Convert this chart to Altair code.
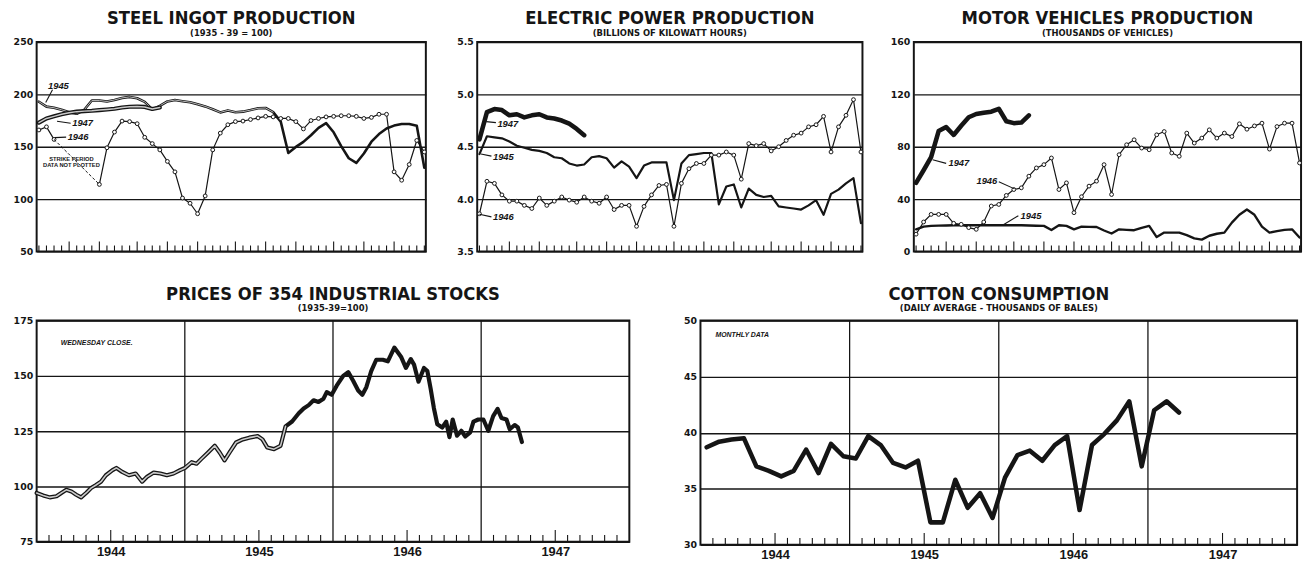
import altair as alt
import pandas as pd

# ---------------------------------------------------------------- data
# weekly series (week index 0..51 within the year)
steel_1945 = [193, 188.3, 187.2, 185.3, 183, 181.5, 185.3, 194.1, 194.1, 193.2,
              194.7, 196.6, 197.6, 196.3, 192.8, 185.7, 189.1, 193.3, 194.6, 193.5,
              192.5, 190.6, 188.5, 185.8, 182.8, 184.7, 183, 183.5, 185, 186.7,
              187, 183, 174, 144, 149.8, 154.6, 161, 168, 172.5, 163.8,
              150.6, 139, 134.5, 143.6, 154.8, 162.1, 167.4, 170.2, 171.7, 171.7,
              170, 130]
steel_1946 = [166, 169, 157, None, None, None, None, None, 114, 149,
              164, 174.5, 174, 172, 159, 153, 147, 136, 126, 101,
              96, 86, 103, 147, 163, 171, 174, 174.5, 176, 177.5,
              179, 178.5, 177, 177, 174, 167, 175, 177, 178.5, 179,
              179.6, 179.6, 179, 177, 178, 181, 181, 126, 118, 133,
              156, 145]
steel_1947 = [173, 177, 179, 181, 182.5, 183.5, 184, 184.4, 185, 185.6,
              186.3, 187.5, 188.2, 188.4, 188, 186, 187.5]

elec_1945 = [4.43, 4.60, 4.59, 4.58, 4.55, 4.51, 4.49, 4.47, 4.46, 4.44,
             4.40, 4.39, 4.34, 4.32, 4.33, 4.40, 4.41, 4.39, 4.30, 4.36,
             4.31, 4.20, 4.32, 4.35, 4.35, 4.35, 3.99, 4.34, 4.42, 4.43,
             4.44, 4.44, 3.95, 4.12, 4.14, 3.92, 4.10, 4.04, 4.02, 4.03,
             3.93, 3.92, 3.91, 3.90, 3.94, 3.99, 3.85, 4.05, 4.09, 4.15,
             4.20, 3.77]
elec_1946 = [3.86, 4.17, 4.15, 4.04, 3.98, 3.98, 3.94, 3.91, 4.01, 3.94,
             3.98, 4.02, 3.99, 3.97, 4.02, 3.98, 3.96, 4.02, 3.90, 3.94,
             3.94, 3.74, 3.93, 4.04, 4.13, 4.14, 3.74, 4.15, 4.29, 4.34,
             4.34, 4.42, 4.42, 4.45, 4.42, 4.19, 4.53, 4.51, 4.53, 4.46,
             4.50, 4.56, 4.61, 4.63, 4.69, 4.71, 4.79, 4.45, 4.69, 4.80,
             4.95, 4.45]
elec_1947 = [4.57, 4.83, 4.86, 4.85, 4.80, 4.81, 4.78, 4.80, 4.81, 4.78,
             4.77, 4.75, 4.72, 4.67, 4.61]

motor_1945 = [16.9, 19, 19.5, 19.7, 19.8, 20, 20, 20, 20, 20,
              20, 20, 20, 20, 20, 19.8, 19.6, 19.5, 16.4, 20,
              19.5, 16.9, 18.9, 18.8, 18.7, 16, 13.7, 16.9, 16.5, 16.2,
              18, 19.5, 11, 14.4, 14.4, 14.4, 12.4, 10, 9, 12,
              13.5, 14.4, 22, 28, 32, 28, 19, 14.4, 15.5, 16.5,
              16.9, 10.6]
motor_1946 = [13.2, 22.5, 28.3, 28.3, 28.3, 21.5, 20.7, 18.2, 16.9, 22.5,
              34.7, 35.9, 42.8, 47.3, 48.6, 57.5, 63.8, 66.3, 71.4, 47.3,
              52.4, 29.6, 41.8, 49.9, 53.7, 66.3, 43.5, 73.9, 81.5, 85.3,
              79.0, 77.7, 89.1, 91.6, 75.2, 72.7, 90.4, 82.8, 86.6, 92.9,
              86.6, 90.4, 87.8, 97.5, 93.4, 95.9, 98.0, 78.2, 95.4, 98.0,
              98.0, 67.6]
motor_1947 = [52.4, 62, 72, 92, 95, 89, 96, 102.5, 105, 106,
              106.8, 109, 99.5, 98, 98.5, 104]

# weekly stock prices, time in decimal years
stock_time = [1944.000, 1944.044, 1944.089, 1944.134, 1944.167, 1944.200, 1944.234, 1944.267, 1944.300, 1944.334,
              1944.367, 1944.401, 1944.434, 1944.467, 1944.512, 1944.538, 1944.578, 1944.623, 1944.668, 1944.712,
              1944.745, 1944.790, 1944.835, 1944.879, 1944.924, 1944.968, 1945.001, 1945.046, 1945.079, 1945.112,
              1945.157, 1945.202, 1945.235, 1945.268, 1945.302, 1945.346, 1945.391, 1945.435, 1945.491, 1945.524,
              1945.557, 1945.602, 1945.646, 1945.680, 1945.724, 1945.769, 1945.802, 1945.836, 1945.869, 1945.902,
              1945.936, 1945.958, 1945.991, 1946.025, 1946.069, 1946.103, 1946.136, 1946.170, 1946.198, 1946.225,
              1946.258, 1946.292, 1946.336, 1946.370, 1946.414, 1946.459, 1946.492, 1946.525, 1946.547, 1946.577,
              1946.614, 1946.637, 1946.659, 1946.681, 1946.704, 1946.737, 1946.764, 1946.786, 1946.808, 1946.837,
              1946.866, 1946.893, 1946.926, 1946.948, 1946.981, 1947.015, 1947.048, 1947.081, 1947.111, 1947.137,
              1947.171, 1947.193, 1947.226, 1947.248, 1947.275]
stock_value = [97.1, 96.0, 95.1, 95.6, 97.1, 98.5, 97.8, 96.3, 95.1, 97.1,
               99.3, 100.7, 102.2, 105.1, 107.4, 108.4, 106.6, 105.1, 105.9, 102.2,
               104.4, 106.3, 105.9, 105.1, 105.9, 107.4, 108.4, 111.0, 110.3, 112.5,
               115.4, 118.4, 115.4, 111.8, 115.4, 119.9, 121.3, 122.1, 122.8, 121.3,
               117.6, 116.9, 118.4, 127.2, 129.4, 133.1, 135.3, 136.8, 139.0, 138.2,
               139.7, 142.7, 141.5, 145.6, 150.0, 151.7, 147.8, 143.4, 141.5, 144.9,
               152.2, 157.3, 157.3, 156.6, 162.8, 158.7, 153.6, 157.6, 155.1, 147.4,
               153.6, 152.2, 144.2, 135.4, 128.1, 126.7, 129.3, 122.3, 130.3, 123.0,
               125.2, 122.6, 124.5, 129.3, 130.3, 130.3, 125.2, 131.8, 135.1, 131.0,
               130.3, 125.9, 127.8, 126.7, 120.1]

# monthly cotton consumption, Jan 1944 onwards
cotton_value = [38.7, 39.2, 39.4, 39.5, 37.0, 36.6, 36.1, 36.6, 38.5, 36.4, 39.0, 37.9,
                37.7, 39.7, 38.9, 37.3, 36.9, 37.5, 32.0, 32.0, 35.8, 33.3, 34.6, 32.4,
                36.0, 38.0, 38.4, 37.5, 38.9, 39.7, 33.1, 38.9, 39.9, 41.1, 42.8, 37.0,
                42.0, 42.8, 41.8]

steel_ticks = [50, 100, 150, 200, 250]
elec_ticks = [3.5, 4.0, 4.5, 5.0, 5.5]
motor_ticks = [0, 40, 80, 120, 160]
stock_ticks = [75, 100, 125, 150, 175]
cotton_ticks = [30, 35, 40, 45, 50]
year_labels = [1944, 1945, 1946, 1947]
month_start_weeks = [4, 8, 13, 17, 21, 26, 30, 34, 39, 43, 47]

# ---------------------------------------------------------------- style
INK = "#151515"
TITLE_FONT = "DejaVu Sans Condensed, Liberation Sans Narrow, DejaVu Sans, sans-serif"
SUB_FONT = "DejaVu Sans, sans-serif"
YEAR_FONT = "Liberation Sans, DejaVu Sans, sans-serif"
LABEL_FONT = "DejaVu Sans, sans-serif"
NOTE_FONT = "Liberation Sans, DejaVu Sans, sans-serif"
CORE = "#c9c9c9"


def ttl(text, sub, offset):
    return alt.TitleParams(text=text, subtitle=sub, font=TITLE_FONT, fontSize=18.5,
                           fontWeight="bold", color=INK, subtitleFont=SUB_FONT,
                           subtitleFontSize=8.5, subtitleFontWeight="bold",
                           subtitleColor=INK, subtitlePadding=1, anchor="middle",
                           lineHeight=18, subtitleLineHeight=9,
                           frame="group", offset=offset)


def y_axis(vals, fmt):
    return alt.Axis(values=vals, format=fmt, grid=True, gridColor=INK, gridWidth=1.4,
                    ticks=False, domain=False, labelFont=LABEL_FONT, labelFontSize=9.5,
                    labelFontWeight="bold", labelColor=INK, labelPadding=4,
                    minExtent=28, maxExtent=28, title=None)


def runs(vals):
    segs, cur = [], []
    for i, v in enumerate(vals):
        if v is None:
            if cur:
                segs.append(cur)
            cur = []
        else:
            cur.append((i, v))
    if cur:
        segs.append(cur)
    return [pd.DataFrame(s, columns=["x", "v"]) for s in segs]


def weekly_panel(title, sub, series, ydom, yvals, yfmt, width, height, notes, leaders,
                 small_notes=()):
    xs = alt.Scale(domain=[-0.3, 51.2], nice=False, zero=False)
    ys = alt.Scale(domain=ydom, nice=False, zero=False)
    ya = y_axis(yvals, yfmt)
    X = lambda f="x": alt.X(f"{f}:Q", scale=xs, axis=None)
    Y = lambda f="v": alt.Y(f"{f}:Q", scale=ys, axis=ya)
    unit = (ydom[1] - ydom[0]) / height
    tk = pd.DataFrame({"x": list(range(52))})
    tk["v"] = ydom[0]
    tk["v2"] = [ydom[0] + unit * (10 if i in month_start_weeks else 6) for i in range(52)]
    layers = [alt.Chart(tk).mark_rule(color=INK, strokeWidth=1.1)
              .encode(x=X(), y=Y(), y2="v2:Q")]
    for s in series:
        segs = runs(s["vals"])
        for df in segs:
            layers.append(alt.Chart(df).mark_line(color=INK, strokeWidth=s["w"],
                                                  strokeJoin="round", strokeCap="round")
                          .encode(x=X(), y=Y()))
            if s.get("hollow") is not None:
                core = df[df["x"] <= s["hollow"]]
                layers.append(alt.Chart(core).mark_line(color=CORE, strokeWidth=s["w"] * 0.35,
                                                        strokeJoin="round", strokeCap="round")
                              .encode(x=X(), y=Y()))
            if s.get("dots"):
                layers.append(alt.Chart(df).mark_point(shape="circle", filled=True, fill="white",
                                                       stroke=INK, strokeWidth=1, size=15, opacity=1)
                              .encode(x=X(), y=Y()))
        if len(segs) > 1:
            a, b = segs[0].iloc[-1], segs[1].iloc[0]
            gap = pd.DataFrame({"x": [a["x"], b["x"]], "v": [a["v"], b["v"]]})
            layers.append(alt.Chart(gap).mark_line(color=INK, strokeWidth=1, strokeDash=[3, 2])
                          .encode(x=X(), y=Y()))
    ld = pd.DataFrame(leaders, columns=["x", "v", "x2", "v2"])
    layers.append(alt.Chart(ld).mark_rule(color=INK, strokeWidth=1.1)
                  .encode(x=X(), y=Y(), x2="x2:Q", y2="v2:Q"))
    nd = pd.DataFrame(notes, columns=["label", "x", "v", "align"])
    for al in ["left", "right"]:
        sub_nd = nd[nd["align"] == al]
        if len(sub_nd):
            layers.append(alt.Chart(sub_nd).mark_text(font=NOTE_FONT, fontSize=9.5, fontStyle="italic",
                                                      fontWeight="bold", color=INK, align=al,
                                                      baseline="middle")
                          .encode(x=X(), y=Y(), text="label:N"))
    if small_notes:
        sn = pd.DataFrame(list(small_notes), columns=["label", "x", "v"])
        layers.append(alt.Chart(sn).mark_text(font=NOTE_FONT, fontSize=5.8, fontWeight="bold",
                                              color=INK, align="center", baseline="middle")
                      .encode(x=X(), y=Y(), text="label:N"))
    return alt.layer(*layers).properties(width=width, height=height, title=ttl(title, sub, 0))


def monthly_panel(title, sub, t, v, ydom, yvals, width, height, note, hollow_until, w):
    xs = alt.Scale(domain=[1944, 1948], nice=False, zero=False)
    ys = alt.Scale(domain=ydom, nice=False, zero=False)
    ya = y_axis(yvals, "d")
    xa = alt.Axis(values=[y + 0.5 for y in year_labels], labelExpr="floor(datum.value)",
                  ticks=False, domain=False, grid=False, labelFont=YEAR_FONT, labelFontSize=13,
                  labelFontWeight="bold", labelColor=INK, labelPadding=4, title=None)
    X = lambda f="t": alt.X(f"{f}:Q", scale=xs, axis=xa)
    Y = lambda f="v": alt.Y(f"{f}:Q", scale=ys, axis=ya)
    unit = (ydom[1] - ydom[0]) / height
    months = [m for m in range(1, 48) if m % 12 != 0]
    tk = pd.DataFrame({"t": [1944 + m / 12 for m in months]})
    tk["v"] = ydom[0]
    tk["v2"] = [ydom[0] + unit * (12 if m % 12 == 6 else 7) for m in months]
    yr = pd.DataFrame({"t": year_labels[1:]})
    yr["v"] = ydom[0]
    yr["v2"] = ydom[1]
    df = pd.DataFrame({"t": t, "v": v})
    layers = [
        alt.Chart(tk).mark_rule(color=INK, strokeWidth=1.1).encode(x=X(), y=Y(), y2="v2:Q"),
        alt.Chart(yr).mark_rule(color=INK, strokeWidth=1.3).encode(x=X(), y=Y(), y2="v2:Q"),
        alt.Chart(df).mark_line(color=INK, strokeWidth=w, strokeJoin="round", strokeCap="round")
        .encode(x=X(), y=Y()),
    ]
    if hollow_until is not None:
        core = df[df["t"] <= hollow_until]
        layers.append(alt.Chart(core).mark_line(color=CORE, strokeWidth=w * 0.38,
                                                strokeJoin="round", strokeCap="round")
                      .encode(x=X(), y=Y()))
    nd = pd.DataFrame([note], columns=["label", "t", "v"])
    layers.append(alt.Chart(nd).mark_text(font=NOTE_FONT, fontSize=7, fontStyle="italic",
                                          fontWeight="bold", color=INK, align="center",
                                          baseline="middle")
                  .encode(x=X(), y=Y(), text="label:N"))
    return alt.layer(*layers).properties(width=width, height=height, title=ttl(title, sub, 3))


steel = weekly_panel(
    "STEEL  INGOT  PRODUCTION", "(1935 - 39 = 100)",
    [{"vals": steel_1945, "w": 2.6, "hollow": 31},
     {"vals": steel_1946, "w": 1.2, "dots": True},
     {"vals": steel_1947, "w": 4.2, "hollow": 16}],
    [50, 250], steel_ticks, "d", 394, 212,
    notes=[("1945", 1.2, 208, "left"), ("1947", 4.4, 172.3, "left"), ("1946", 3.8, 159, "left")],
    leaders=[(0.9, 192.2, 1.8, 204.5), (2.4, 174.4, 4.2, 172.5), (2.1, 158.7, 3.6, 159.2)],
    small_notes=[("STRIKE PERIOD", 4.3, 138.4), ("DATA NOT PLOTTED", 4.3, 132.8)])

elec = weekly_panel(
    "ELECTRIC  POWER  PRODUCTION", "(BILLIONS OF KILOWATT HOURS)",
    [{"vals": elec_1945, "w": 2.2},
     {"vals": elec_1946, "w": 1.2, "dots": True},
     {"vals": elec_1947, "w": 4.6}],
    [3.5, 5.5], elec_ticks, ".1f", 390, 212,
    notes=[("1947", 2.4, 4.72, "left"), ("1945", 1.8, 4.405, "left"), ("1946", 1.8, 3.83, "left")],
    leaders=[(0.9, 4.74, 2.2, 4.73), (0.2, 4.43, 1.6, 4.41), (0.0, 3.855, 1.6, 3.83)])

motor = weekly_panel(
    "MOTOR  VEHICLES  PRODUCTION", "(THOUSANDS OF VEHICLES)",
    [{"vals": motor_1945, "w": 2.4},
     {"vals": motor_1946, "w": 1.2, "dots": True},
     {"vals": motor_1947, "w": 4.6}],
    [0, 160], motor_ticks, "d", 392, 212,
    notes=[("1947", 4.3, 67.8, "left"), ("1946", 10.8, 53.9, "right"), ("1945", 13.9, 27.1, "left")],
    leaders=[(2.2, 70.1, 4.0, 67.3), (11.0, 53.2, 13.1, 47.8), (11.5, 20.0, 13.6, 27.3)])

stocks = monthly_panel(
    "PRICES  OF  354  INDUSTRIAL  STOCKS", "(1935-39=100)",
    stock_time, stock_value, [75, 175], stock_ticks, 600, 224,
    ("WEDNESDAY CLOSE.", 1944.405, 164.9), 1945.68, 4.2)

cotton_time = [1944 + (k + 0.5) / 12 for k in range(len(cotton_value))]
cotton = monthly_panel(
    "COTTON  CONSUMPTION", "(DAILY AVERAGE - THOUSANDS OF BALES)",
    cotton_time, cotton_value, [30, 50], cotton_ticks, 604, 227,
    ("MONTHLY DATA", 1944.28, 48.7), None, 4.6)

top = alt.hconcat(steel, elec, motor, spacing=19)
bottom = alt.hconcat(stocks, cotton, spacing=42)
chart = (alt.vconcat(top, bottom, spacing=27)
         .properties(padding={"top": -3, "left": 0, "right": 0, "bottom": 0},
                     background="white")
         .configure_view(stroke=INK, strokeWidth=2))

chart.save("out.html", embed_options={"renderer": "svg", "actions": False})
